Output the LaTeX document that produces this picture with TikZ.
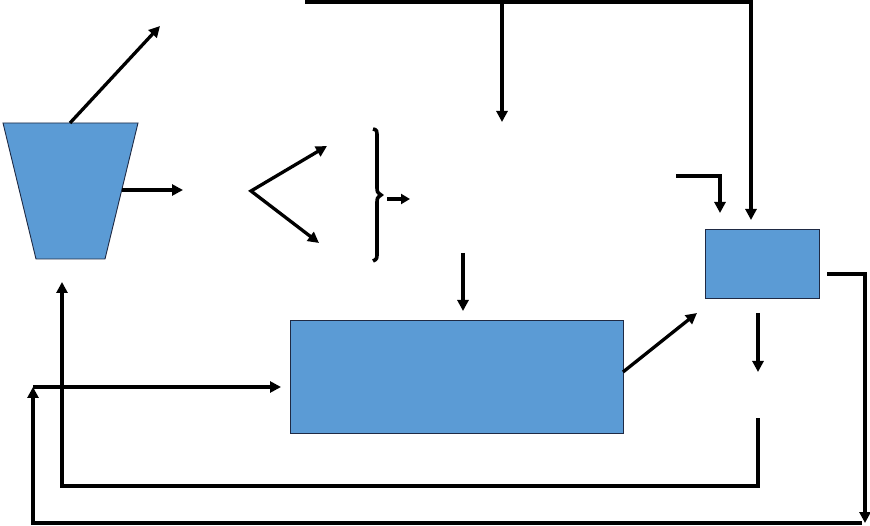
\documentclass[tikz,border=0pt]{standalone}
\usetikzlibrary{arrows.meta}
\definecolor{fillblue}{HTML}{5B9BD5}
\definecolor{edgeblue}{HTML}{1F2A44}
\tikzset{
  box/.style={draw=edgeblue, line width=0.9pt, fill=fillblue, inner sep=0pt, outer sep=0pt},
  ln/.style={line width=3.3pt},
  arr/.style={line width=3.3pt, -{Triangle[length=11pt,width=11pt]}},
  brc/.style={line width=3.6pt}
}
\begin{document}
\begin{tikzpicture}[x=1pt,y=-1pt]
\useasboundingbox (0,0) rectangle (870,526);
% trapezoid vessel
\coordinate (t1) at (3,123);
\coordinate (t2) at (138,123);
\coordinate (t3) at (105,259);
\coordinate (t4) at (36,259);
\draw[box] (t1) -- (t2) -- (t3) -- (t4) -- cycle;
% boxes
\node[box, minimum width=333pt, minimum height=113pt] (big) at (456.5,376.5) {};
\node[box, minimum width=114pt, minimum height=69pt] (small) at (762,263.5) {};
% coordinates
\coordinate (trtop) at (70,123);
\coordinate (up1) at (160,26);
\coordinate (trout) at (122,190);
\coordinate (out1) at (183,190);
\coordinate (cv) at (251,191);
\coordinate (cu) at (327,146);
\coordinate (cl) at (319,243);
\coordinate (b1) at (387,199);
\coordinate (b2) at (410,199);
\coordinate (tp0) at (305,2);
\coordinate (tp1) at (751,2);
\coordinate (tp2) at (751,220);
\coordinate (br0) at (502,2);
\coordinate (br1) at (502,122);
\coordinate (s0) at (676,176);
\coordinate (s1) at (720,176);
\coordinate (s2) at (720,213);
\coordinate (r0) at (827,274);
\coordinate (r1) at (865,274);
\coordinate (r2) at (865,523);
\coordinate (d0) at (758,313);
\coordinate (d1) at (758,372);
\coordinate (e0) at (758,418);
\coordinate (e1) at (758,486);
\coordinate (e2) at (62,486);
\coordinate (e3) at (62,282);
\coordinate (g0) at (623,372);
\coordinate (g1) at (697,313);
\coordinate (m0) at (463,253);
\coordinate (m1) at (463,311);
\coordinate (f0) at (862,523);
\coordinate (f1) at (33,523);
\coordinate (f2) at (33,387);
\coordinate (h1) at (281,387);
% connectors
\draw[arr] (trtop) -- (up1);
\draw[arr] (trout) -- (out1);
\draw[line width=3.3pt, {Triangle[length=11pt,width=11pt]}-{Triangle[length=11pt,width=11pt]}] (cu) -- (cv) -- (cl);
\draw[brc] (373,129) .. controls (377,130) .. (377,138) -- (377,186) .. controls (377,192) .. (381,195) .. controls (377,198) .. (377,204) -- (377,252) .. controls (377,259) .. (373,261);
\draw[line width=3.3pt, -{Triangle[length=9pt,width=10pt]}] (b1) -- (b2);
\draw[arr] (tp0) -- (tp1) -- (tp2);
\draw[arr] (br0) -- (br1);
\draw[arr] (s0) -- (s1) -- (s2);
\draw[arr] (r0) -- (r1) -- (r2);
\draw[arr] (d0) -- (d1);
\draw[arr] (e0) -- (e1) -- (e2) -- (e3);
\draw[arr] (g0) -- (g1);
\draw[arr] (m0) -- (m1);
\draw[arr] (f0) -- (f1) -- (f2);
\draw[arr] (f2) -- (h1);
\end{tikzpicture}
\end{document}
